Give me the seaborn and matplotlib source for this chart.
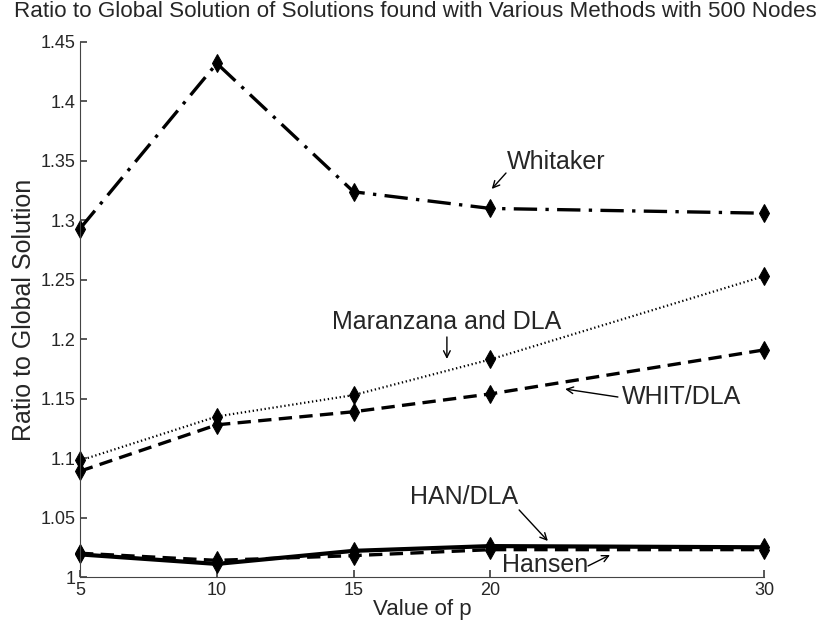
import seaborn as sns
import matplotlib.pyplot as plt
import pandas as pd

# values
p_values = [5, 10, 15, 20, 30]
whitaker = [1.293, 1.432, 1.324, 1.310, 1.306]
maranzana_dla = [1.098, 1.135, 1.153, 1.183, 1.253]
whit_dla = [1.089, 1.128, 1.139, 1.154, 1.191]
han_dla = [1.019, 1.011, 1.022, 1.026, 1.025]
hansen = [1.020, 1.014, 1.018, 1.023, 1.023]

y_ticks = [1, 1.05, 1.1, 1.15, 1.2, 1.25, 1.3, 1.35, 1.4, 1.45]
y_tick_labels = ["1", "1.05", "1.1", "1.15", "1.2", "1.25", "1.3", "1.35", "1.4", "1.45"]

sns.set_theme(style="ticks")
plt.rcParams["font.family"] = ["Liberation Sans", "DejaVu Sans"]

fig = plt.figure(figsize=(8.28, 6.31), dpi=100)
ax = fig.add_axes([80 / 828, 1 - 577 / 631, 684 / 828, 535 / 631])

series = [
    (whitaker, (0, (7, 2.5, 1, 2.5)), 2.4),
    (maranzana_dla, (0, (0.6, 1.2)), 1.6),
    (whit_dla, (0, (4, 2.2)), 2.4),
    (hansen, (0, (4, 2.2)), 2.4),
    (han_dla, "-", 3.0),
]
for values, ls, lw in series:
    df = pd.DataFrame({"p": p_values, "ratio": values})
    sns.lineplot(data=df, x="p", y="ratio", ax=ax, color="black",
                 linestyle=ls, linewidth=lw, marker="d", markersize=9,
                 markerfacecolor="black", markeredgecolor="black", clip_on=False)

ax.set_xlim(5, 30)
ax.set_ylim(1, 1.45)
ax.set_xticks(p_values)
ax.set_yticks(y_ticks)
ax.set_yticklabels(y_tick_labels)
ax.tick_params(direction="in", length=5, labelsize=13, color="#444444")
for side in ["top", "right"]:
    ax.spines[side].set_visible(False)
for side in ["left", "bottom"]:
    ax.spines[side].set_color("#444444")
    ax.spines[side].set_linewidth(0.8)

ax.set_xlabel("Value of p", fontsize=16, labelpad=0)
ax.set_ylabel("Ratio to Global Solution", fontsize=18, labelpad=3)
fig.text(0.502, 0.981, "Ratio to Global Solution of Solutions found with Various Methods with 500 Nodes",
         ha="center", va="center", fontsize=16.1)

# labels and arrows
label_size = 18
arrow = dict(arrowstyle="->", color="black", lw=1, shrinkA=0, shrinkB=0)
ax.text(20.61, 1.349, "Whitaker", fontsize=label_size, ha="left", va="center")
ax.annotate("", xy=(20.05, 1.3264), xytext=(20.57, 1.3398), arrowprops=arrow)
ax.text(18.41, 1.2145, "Maranzana and DLA", fontsize=label_size, ha="center", va="center")
ax.annotate("", xy=(18.41, 1.1834), xytext=(18.41, 1.2019), arrowprops=arrow)
ax.text(24.81, 1.1514, "WHIT/DLA", fontsize=label_size, ha="left", va="center")
ax.annotate("", xy=(22.73, 1.1581), xytext=(24.66, 1.1514), arrowprops=arrow)
ax.text(19.04, 1.0673, "HAN/DLA", fontsize=label_size, ha="center", va="center")
ax.annotate("", xy=(22.1, 1.0303), xytext=(21.05, 1.0564), arrowprops=arrow)
ax.text(22.0, 1.0101, "Hansen", fontsize=label_size, ha="center", va="center")
ax.annotate("", xy=(24.37, 1.0185), xytext=(23.57, 1.0093), arrowprops=arrow)

fig.savefig("out.png", dpi=100)
